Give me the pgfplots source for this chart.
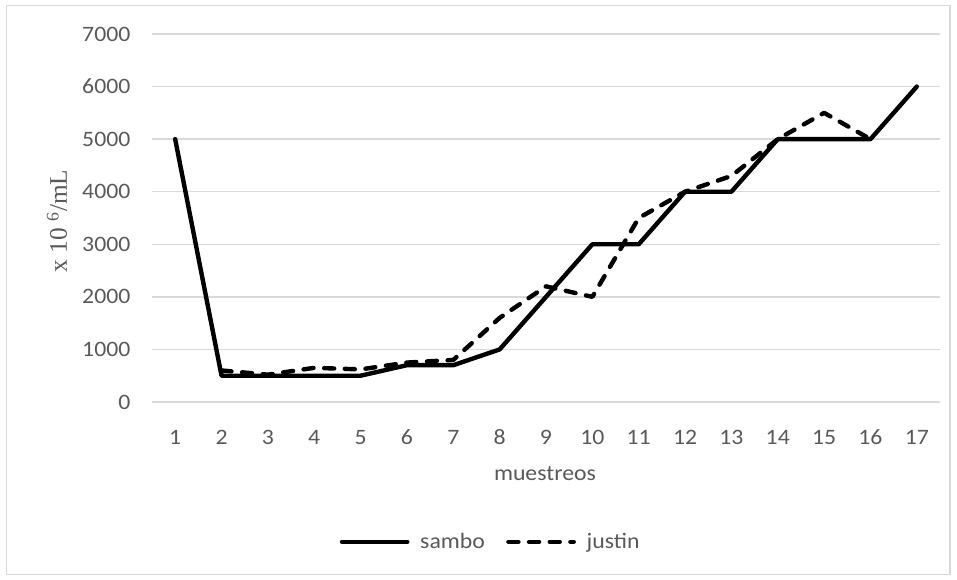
\documentclass[border=0pt]{standalone}
\usepackage{fontspec}
\setmainfont{Carlito}[FakeStretch=1.08]
\newfontfamily\seriffont{Liberation Serif}
\usepackage{pgfplots}
\pgfplotsset{compat=1.18}
\definecolor{gridgray}{HTML}{D9D9D9}
\definecolor{textgray}{HTML}{595959}
\begin{document}
\begin{tikzpicture}
\useasboundingbox (0pt,0pt) rectangle (717.75pt,435pt);
\draw[gridgray, line width=0.9pt] (5pt,4pt) rectangle (712.5pt,431pt);
\begin{axis}[
  at={(114pt,133.5pt)}, anchor=south west,
  scale only axis, width=591pt, height=276pt,
  xmin=0.5, xmax=17.5, ymin=0, ymax=7000,
  xtick={1,...,17}, ytick={0,1000,...,7000},
  axis line style={draw=none},
  major tick length=0pt,
  ymajorgrids, grid style={gridgray, line width=1pt},
  ticklabel style={font=\fontsize{16.5}{19}\selectfont, text=textgray},
  yticklabel style={anchor=east, inner sep=0pt, xshift=-16pt},
  xticklabel style={anchor=center, inner sep=0pt, yshift=-26.5pt},
  /pgf/number format/assume math mode=true,
  scaled y ticks=false,
  yticklabel={\pgfmathprintnumber[fixed,1000 sep={}]{\tick}},
  xlabel={muestreos},
  xlabel style={font=\fontsize{16.5}{19}\selectfont, text=textgray, at={(rel axis cs:0.4987,-0.1957)}, anchor=center},
  ylabel={x 10 \textsuperscript{6}/mL},
  ylabel style={font=\seriffont\fontsize{19}{22}\selectfont, text=textgray, at={(rel axis cs:-0.1206,0.492)}, anchor=center},
  legend columns=2,
  legend style={draw=none, fill=none, at={(rel axis cs:0.4302,-0.380)}, anchor=center,
    font=\fontsize{16.5}{19}\selectfont, text=textgray,
    /tikz/every even column/.append style={column sep=14pt}},
  legend image code/.code={\draw[#1] (0pt,0pt) -- (49pt,0pt); \path (55pt,0pt);},
  legend cell align=left,
]
\addplot[black, line width=3.3pt, line join=round, line cap=round] coordinates {
(1,5000) (2,500) (3,500) (4,500) (5,500) (6,700) (7,700) (8,1000) (9,2000)
(10,3000) (11,3000) (12,4000) (13,4000) (14,5000) (15,5000) (16,5000) (17,6000)};
\addlegendentry{sambo}
\addplot[black, line width=3.3pt, line join=round, line cap=round, dash pattern=on 7.5pt off 8pt] coordinates {
(2,600) (3,520) (4,650) (5,620) (6,750) (7,800) (8,1600) (9,2200)
(10,2000) (11,3500) (12,4000) (13,4300) (14,5000) (15,5500) (16,5000)};
\addlegendentry{justin}
\end{axis}
\end{tikzpicture}
\end{document}
